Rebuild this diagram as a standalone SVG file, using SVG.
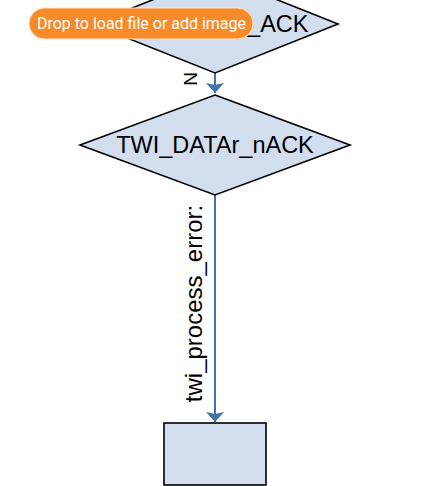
<svg xmlns="http://www.w3.org/2000/svg" width="424" height="486" viewBox="0 0 424 486">
<style>
.node{fill:#D2DEEE;stroke:#000;stroke-width:1.6}
.lbl{font-family:"Liberation Sans",Arial,sans-serif;fill:#000}
.edge{stroke:#4272A6;stroke-width:2;fill:none}
</style>
<defs>
<marker id="arr" viewBox="0 0 10 18" markerWidth="10" markerHeight="18" refX="10" refY="9" orient="auto" markerUnits="userSpaceOnUse">
<path d="M0,0 L10,9 L0,18 L2,9 Z" fill="#4272A6"/>
</marker>
</defs>
<rect width="424" height="486" fill="#fff"/>
<g id="connectors">
<line class="edge" x1="215" y1="73" x2="215" y2="93" marker-end="url(#arr)"/>
<text class="lbl" font-size="19" text-anchor="middle" transform="translate(196.5,79) rotate(-90)">N</text>
<line class="edge" x1="215" y1="195" x2="215" y2="422" marker-end="url(#arr)"/>
<text class="lbl" font-size="24" text-anchor="middle" transform="translate(202,303.5) rotate(-90)">twi_process_error:</text>
</g>
<g id="node-ack">
<polygon class="node" points="215,-25 338,24 215,73 92,24"/>
<text class="lbl" font-size="23.5" text-anchor="end" x="308.5" y="32">_ACK</text>
</g>
<g id="node-nack">
<polygon class="node" points="215,95 350,145 215,195 80,145"/>
<text class="lbl" font-size="23.5" text-anchor="middle" x="215" y="153">TWI_DATAr_nACK</text>
</g>
<g id="node-process">
<rect class="node" x="164" y="423" width="102" height="62" stroke-width="2"/>
</g>
<g id="overlay">
<rect x="29" y="8" width="224" height="31" rx="15.5" fill="#F78B2A" stroke="#FCE4C4" stroke-width="1"/>
<text x="37" y="29" font-family="Roboto,sans-serif" font-size="16" fill="#fff" textLength="209">Drop to load file or add image</text>
</g>
</svg>
